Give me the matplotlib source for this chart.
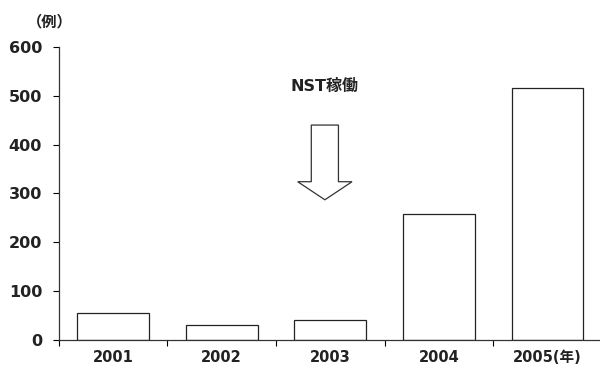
import matplotlib.pyplot as plt
from matplotlib.patches import FancyArrow

plt.rcParams['font.family'] = ['DejaVu Sans', 'Noto Sans CJK JP']

# data
years = ['2001', '2002', '2003', '2004', '2005(年)']
cases = [55, 30, 41, 258, 516]
yticks = [0, 100, 200, 300, 400, 500, 600]

# annotation for NST start (data coords)
arrow_x = 1.95
arrow_top = 440
arrow_neck = 324
arrow_tip = 287
note_text = 'NST稼働'

fig = plt.figure(figsize=(6, 3.71), dpi=100)
ax = fig.add_axes([0.098, 0.0836, 0.905, 0.79])

x = range(len(years))
ax.bar(x, cases, width=0.66, color='white', edgecolor='#222222', linewidth=0.9)

ax.set_xlim(-0.5, len(years) - 0.5)
ax.set_ylim(0, 600)
ax.set_yticks(yticks)
ax.set_yticklabels([str(v) for v in yticks], fontsize=11.5, fontweight='bold', color='#222222')

# x ticks at category boundaries, labels centred under bars
ax.set_xticks([i - 0.5 for i in range(len(years))])
ax.set_xticklabels([])
ax.set_xticks(list(x), minor=True)
ax.set_xticklabels(years, minor=True, fontsize=10.5, fontweight='bold', color='#222222')
ax.tick_params(axis='x', which='minor', length=0, pad=7)
ax.tick_params(axis='x', which='major', length=4, width=0.8, direction='out')
ax.tick_params(axis='y', length=4, width=0.8, direction='out', pad=8)

for s in ['top', 'right']:
    ax.spines[s].set_visible(False)
for s in ['left', 'bottom']:
    ax.spines[s].set_linewidth(0.9)
    ax.spines[s].set_color('#333333')

ax.add_patch(FancyArrow(arrow_x, arrow_top, 0, arrow_tip - arrow_top,
                        width=0.25, head_width=0.5, head_length=arrow_neck - arrow_tip,
                        length_includes_head=True, facecolor='white',
                        edgecolor='#333333', linewidth=0.9))
ax.text(arrow_x, 518, note_text, ha='center', va='center', fontsize=11.5,
        fontweight='bold', color='#222222')

fig.text(0.083, 0.94, '（例）', ha='center', va='center', fontsize=11,
         fontweight='bold', color='#222222')

fig.savefig('out.png', dpi=100)
